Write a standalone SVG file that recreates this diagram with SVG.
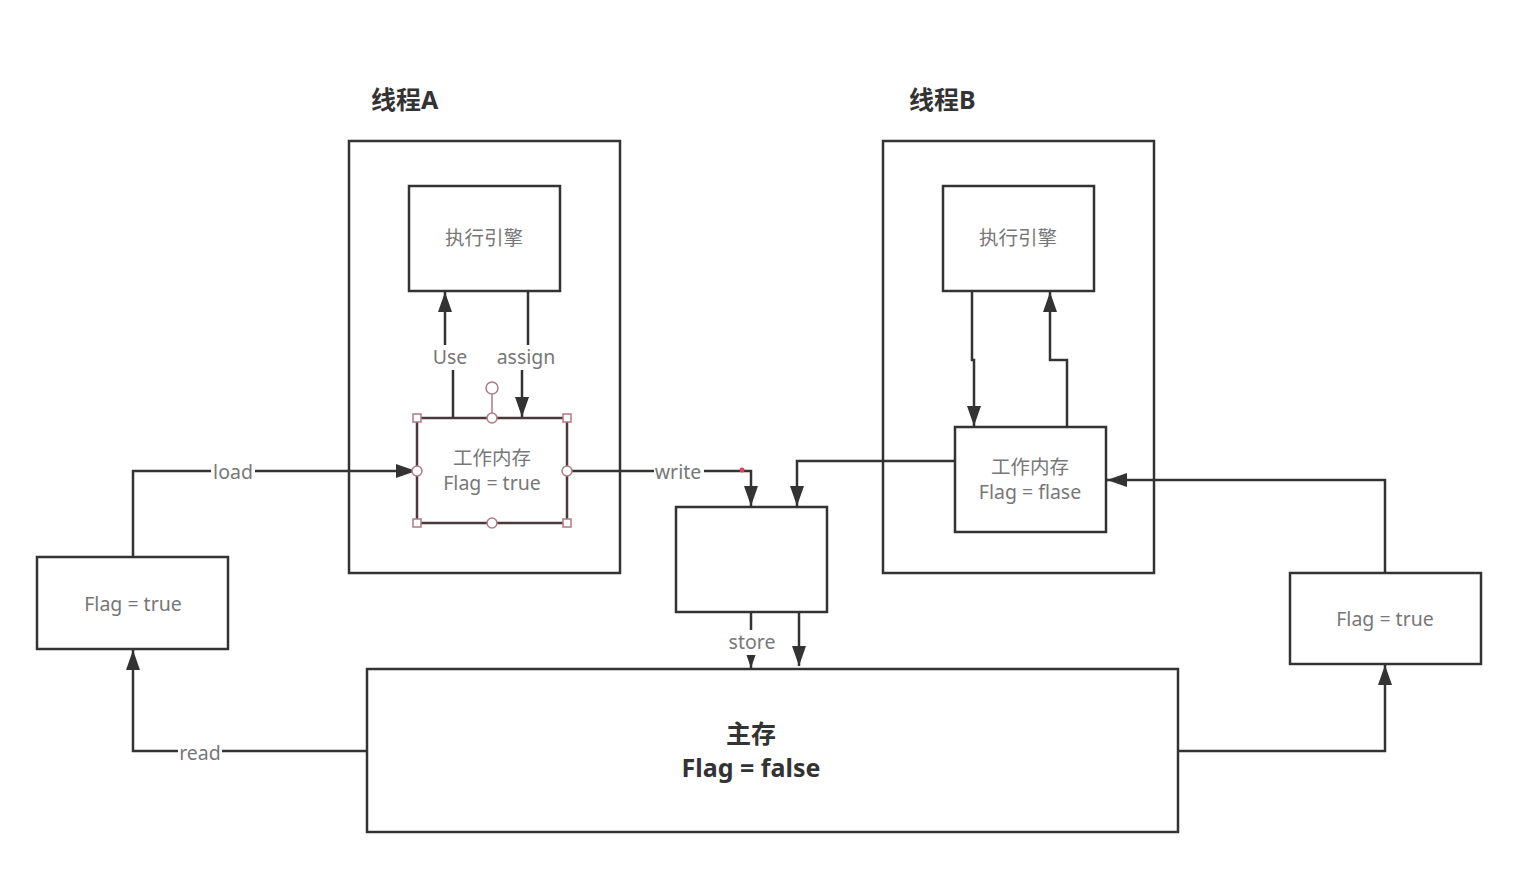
<svg xmlns="http://www.w3.org/2000/svg" width="1524" height="874" viewBox="0 0 1524 874">
<style>
.box{fill:#fff;stroke:#333;stroke-width:2.5}
.thr{fill:none;stroke:#333;stroke-width:2.5}
.c{fill:none;stroke:#333;stroke-width:2.5}
.t{font-family:"Noto Sans","Noto Sans CJK SC",sans-serif;font-size:19.5px;fill:#777;text-anchor:middle}
.lbl{font-family:"Noto Sans","Noto Sans CJK SC",sans-serif;font-size:19.5px;fill:#777;text-anchor:middle}
.title{font-family:"Noto Sans","Noto Sans CJK SC",sans-serif;font-size:25px;font-weight:bold;fill:#333}
.main{font-family:"Noto Sans","Noto Sans CJK SC",sans-serif;font-size:25px;font-weight:bold;fill:#333;text-anchor:middle}
.h{fill:#fff;stroke:#b07a86;stroke-width:1.5}
</style>
<defs>
<marker id="a" markerUnits="userSpaceOnUse" markerWidth="20" markerHeight="14" viewBox="0 0 20 14" refX="20" refY="7" orient="auto">
<path d="M0,0 L20,7 L0,14 Z" fill="#333"/>
</marker>
</defs>
<rect width="1524" height="874" fill="#fff"/>

<g id="threadA">
<text class="title" x="371" y="109">线程A</text>
<rect class="thr" x="349" y="141" width="271" height="432"/>
</g>
<g id="threadB">
<text class="title" x="909" y="109">线程B</text>
<rect class="thr" x="883" y="141" width="271" height="432"/>
</g>

<g id="connectors">
<path class="c" d="M453,418 V357 H445 V292" marker-end="url(#a)"/>
<path class="c" d="M528,291 V357 H522 V417" marker-end="url(#a)"/>
<path class="c" d="M133,557 V471 H416" marker-end="url(#a)"/>
<path class="c" d="M367,751 H133 V650" marker-end="url(#a)"/>
<path class="c" d="M567,471 H751 V506" marker-end="url(#a)"/>
<path class="c" d="M955,461 H797 V506" marker-end="url(#a)"/>
<path class="c" d="M751,612 V668" marker-end="url(#a)"/>
<path class="c" d="M799,612 V666" marker-end="url(#a)"/>
<path class="c" d="M972,291 V360 H974 V426" marker-end="url(#a)"/>
<path class="c" d="M1067,427 V360 H1050 V292" marker-end="url(#a)"/>
<path class="c" d="M1385,573 V480 H1107" marker-end="url(#a)"/>
<path class="c" d="M1178,751 H1385 V665" marker-end="url(#a)"/>
<rect x="428" y="345" width="46" height="25" fill="#fff"/>
<text class="lbl" x="450" y="364">Use</text>
<rect x="495" y="345" width="64" height="25" fill="#fff"/>
<text class="lbl" x="526" y="364">assign</text>
<rect x="211" y="460" width="44" height="25" fill="#fff"/>
<text class="lbl" x="233" y="479">load</text>
<rect x="178" y="741" width="44" height="25" fill="#fff"/>
<text class="lbl" x="200" y="760">read</text>
<rect x="654" y="460" width="50" height="25" fill="#fff"/>
<text class="lbl" x="678" y="479">write</text>
<circle cx="742" cy="470" r="2.5" fill="#e04050"/>
<rect x="726" y="630" width="52" height="25" fill="#fff"/>
<text class="lbl" x="752" y="649">store</text>
</g>

<g id="engineA">
<rect class="box" x="409" y="186" width="151" height="105"/>
<text class="t" x="484" y="245">执行引擎</text>
</g>
<g id="engineB">
<rect class="box" x="943" y="186" width="151" height="105"/>
<text class="t" x="1018" y="245">执行引擎</text>
</g>

<g id="workA">
<rect x="417" y="418" width="150" height="105" fill="#fff" stroke="#4a3a3e" stroke-width="2.5"/>
<text class="t" x="492" y="465">工作内存</text>
<text class="t" x="492" y="490">Flag = true</text>
<line x1="492" y1="394" x2="492" y2="418" stroke="#b07a86" stroke-width="1.5"/>
<circle class="h" cx="492" cy="388" r="6"/>
<rect class="h" x="413" y="414" width="8" height="8"/>
<rect class="h" x="563" y="414" width="8" height="8"/>
<rect class="h" x="413" y="519" width="8" height="8"/>
<rect class="h" x="563" y="519" width="8" height="8"/>
<circle class="h" cx="492" cy="418" r="5"/>
<circle class="h" cx="492" cy="523" r="5"/>
<circle class="h" cx="417" cy="471" r="5"/>
<circle class="h" cx="567" cy="471" r="5"/>
</g>

<g id="workB">
<rect class="box" x="955" y="427" width="151" height="105"/>
<text class="t" x="1030" y="474">工作内存</text>
<text class="t" x="1030" y="499">Flag = flase</text>
</g>

<g id="middle">
<rect class="box" x="676" y="507" width="151" height="105"/>
</g>

<g id="mainMemory">
<rect class="box" x="367" y="669" width="811" height="163"/>
<text class="main" x="751" y="743">主存</text>
<text class="main" x="751" y="777">Flag = false</text>
</g>

<g id="flagLeft">
<rect class="box" x="37" y="557" width="191" height="92"/>
<text class="t" x="133" y="611">Flag = true</text>
</g>
<g id="flagRight">
<rect class="box" x="1290" y="573" width="191" height="91"/>
<text class="t" x="1385" y="626">Flag = true</text>
</g>
</svg>
